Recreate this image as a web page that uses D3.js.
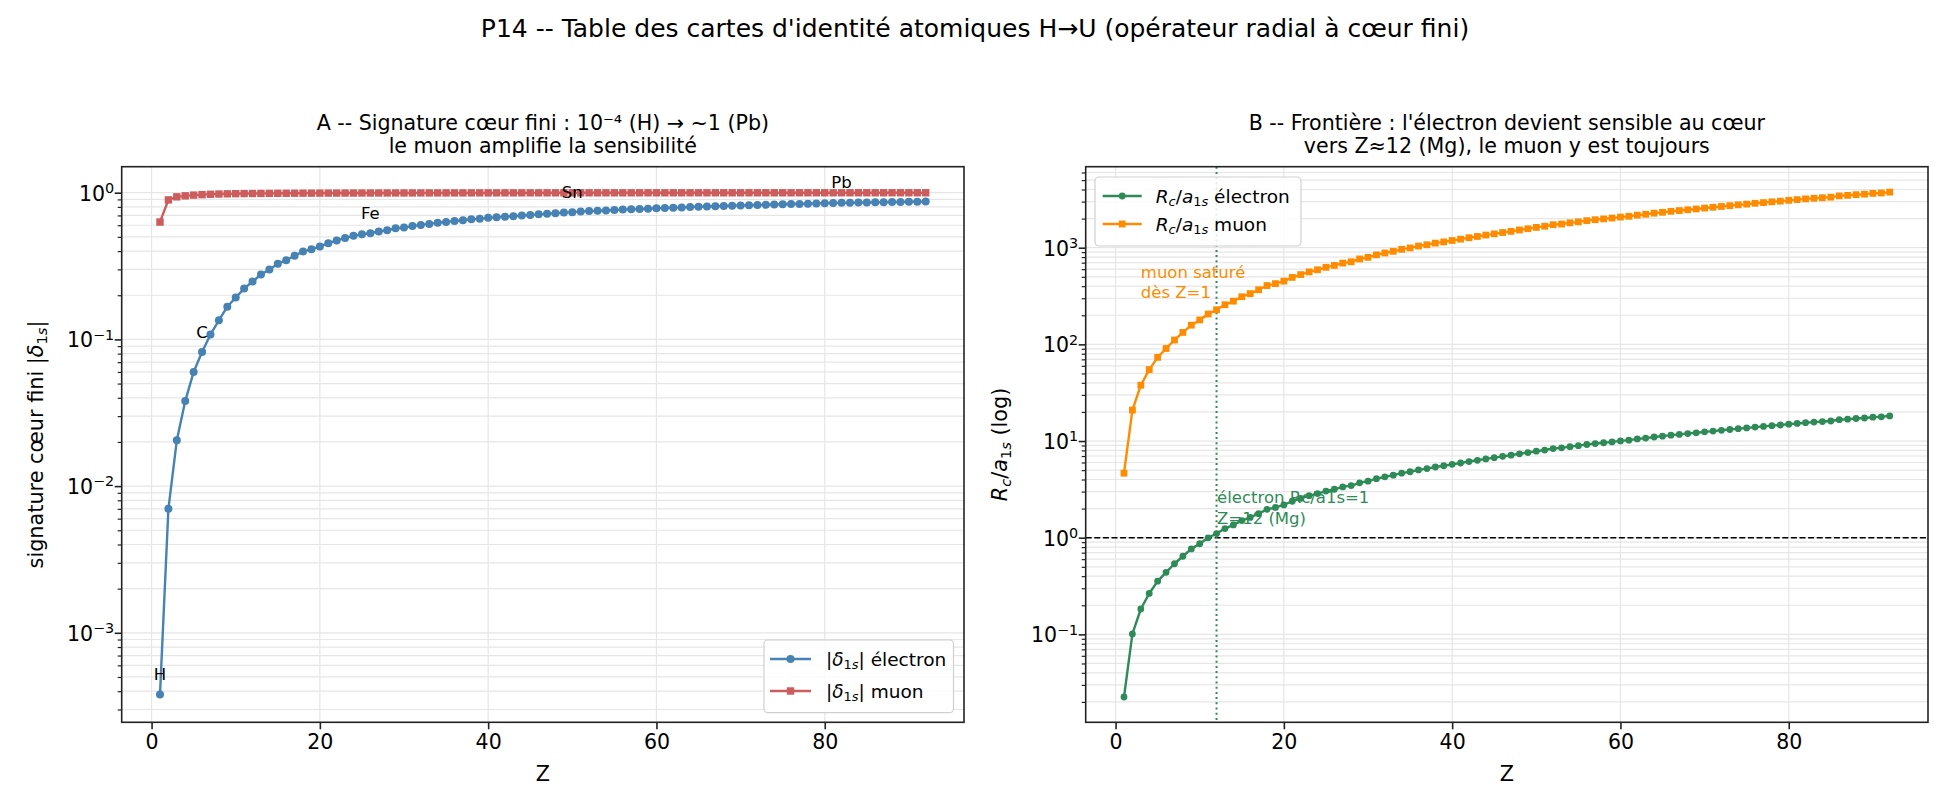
<!DOCTYPE html>
<html><head><meta charset="utf-8">
<script src="https://cdn.jsdelivr.net/npm/d3@7"></script>
<style>body{margin:0;background:#fff} svg{display:block} text{font-family:"DejaVu Sans",sans-serif;fill:#000}</style>
</head><body><svg id="c" width="1950" height="810"></svg>
<script>
// ---------------- DATA ----------------
const Z = [1,2,3,4,5,6,7,8,9,10,11,12,13,14,15,16,17,18,19,20,21,22,23,24,25,26,27,28,29,30,
31,32,33,34,35,36,37,38,39,40,41,42,43,44,45,46,47,48,49,50,51,52,53,54,55,56,57,58,59,60,
61,62,63,64,65,66,67,68,69,70,71,72,73,74,75,76,77,78,79,80,81,82,83,84,85,86,87,88,89,90,91,92];
const deltaElectron = [0.00038,0.0070,0.0205,0.038,0.060,0.082,0.108,0.135,0.167,0.193,
0.222,0.248,0.277,0.299,0.328,0.346,0.372,0.398,0.411,0.430,
0.453,0.472,0.492,0.508,0.521,0.530,0.544,0.555,0.572,0.578,
0.592,0.603,0.613,0.624,0.632,0.642,0.649,0.658,0.664,0.674,
0.680,0.686,0.692,0.699,0.705,0.712,0.718,0.724,0.733,0.737,
0.743,0.749,0.752,0.757,0.762,0.767,0.771,0.775,0.778,0.783,
0.786,0.791,0.794,0.799,0.802,0.806,0.809,0.812,0.815,0.819,
0.822,0.825,0.828,0.831,0.834,0.837,0.839,0.841,0.844,0.849,
0.851,0.853,0.855,0.856,0.858,0.861,0.862,0.864,0.865,0.868,
0.869,0.871];
const deltaMuon = [0.631,0.893,0.937,0.952,0.963,0.970,0.9755,0.9794,0.9825,0.9845,
0.9864,0.9877,0.9891,0.9899,0.9909,0.9915,0.9923,0.9930,0.9933,0.9937,
0.9942,0.9945,0.9949,0.9951,0.9954,0.9956,0.9958,0.9960,0.9962,0.9963,
0.9965,0.9967,0.9968,0.9970,0.9971,0.9972,0.9973,0.9974,0.9975,0.9976,
0.9977,0.9977,0.9978,0.9978,0.9979,0.9979,0.9980,0.9980,0.9981,0.9981,
0.9982,0.9982,0.9982,0.9983,0.9983,0.9983,0.9984,0.9984,0.9984,0.9985,
0.9985,0.9985,0.9986,0.9986,0.9986,0.9986,0.9987,0.9987,0.9987,0.9987,
0.9988,0.9988,0.9988,0.9988,0.9988,0.9989,0.9989,0.9989,0.9989,0.9989,
0.9989,0.9990,0.9990,0.9990,0.9990,0.9990,0.9990,0.9991,0.9991,0.9991,
0.9991,0.9991];
const ratioElectron = [0.0225,0.101,0.183,0.265,0.355,0.438,0.538,0.643,0.766,0.866,
0.998,1.104,1.244,1.356,1.503,1.621,1.774,1.964,2.055,2.182,
2.383,2.550,2.720,2.858,3.033,3.173,3.353,3.458,3.700,3.847,
4.077,4.265,4.440,4.654,4.811,5.031,5.190,5.391,5.554,5.739,
5.927,6.134,6.323,6.536,6.728,6.945,7.139,7.382,7.602,7.847,
8.071,8.361,8.498,8.750,8.954,9.210,9.420,9.605,9.796,10.03,
10.22,10.51,10.72,11.01,11.24,11.50,11.72,11.95,12.17,12.44,
12.67,12.92,13.17,13.43,13.66,13.94,14.17,14.43,14.66,14.95,
15.21,15.47,15.71,15.90,16.12,16.62,16.83,17.10,17.32,17.64,
17.81,18.19];
const ratioMuon = [4.65,20.9,37.8,54.8,73.4,90.6,111,133,158,179,
206,228,257,280,311,335,367,406,425,451,
493,527,562,591,627,656,693,715,765,795,
843,882,918,962,995,1040,1073,1115,1148,1187,
1226,1268,1307,1351,1391,1436,1476,1526,1572,1622,
1669,1729,1757,1809,1851,1904,1948,1986,2026,2074,
2113,2173,2217,2277,2324,2378,2423,2471,2516,2572,
2620,2671,2723,2777,2824,2882,2930,2984,3031,3091,
3145,3199,3248,3288,3333,3436,3480,3536,3581,3647,
3683,3761];
const elementLabels = ["H","C","Fe","Sn","Pb"];
const elementZ = [1,6,26,50,82];
const xTicks = [0,20,40,60,80];
const yTicksA = [1e-3,1e-2,1e-1,1];
const yTicksB = [1e-1,1,10,100,1000];
const ZThreshold = 12;

// ---------------- LAYOUT ----------------
const svg = d3.select("#c");
const FS_TICK = 20.5, FS_LAB = 20.8, FS_TITLE = 20.6, FS_SUP = 25, FS_LEG = 18.5, FS_ANN = 16.5;
const C_E_A = "#4682b4", C_M_A = "#cd5c5c", C_E_B = "#2e8b57", C_M_B = "#ff8c00";
const yTop = 166.7, yBot = 722.3;

function rich(t, parts, fs){
  let shift = 0;
  parts.forEach(p=>{
    const ts = t.append("tspan").text(p.t);
    const target = p.sub ? fs*0.2 : (p.sup ? -fs*0.38 : 0);
    const dy = target - shift;
    if (dy !== 0) ts.attr("dy", dy);
    shift = target;
    if (p.sub || p.sup) ts.attr("font-size", fs*0.7);
    if (p.it) ts.attr("font-style","italic");
  });
}
function supLabel(v){
  const e = Math.round(Math.log10(v));
  return [{t:"10"},{t:(e<0?"\u2212":"")+Math.abs(e), sup:true}];
}
function minorTicks(dom){
  const out=[];
  const lo=Math.floor(Math.log10(dom[0])), hi=Math.ceil(Math.log10(dom[1]));
  for(let d=lo; d<=hi; d++) for(let k=2;k<=9;k++){const v=k*Math.pow(10,d); if(v>=dom[0]&&v<=dom[1]) out.push(v);}
  return out;
}

function panel(o){
  const x = d3.scaleLinear().domain([-3.55,96.55]).range([o.left,o.right]);
  const y = d3.scaleLog().domain(o.ydom).range([yBot,yTop]);
  const g = svg.append("g");
  const minors = minorTicks(o.ydom);
  const grid = g.append("g").attr("stroke","#e6e6e6").attr("stroke-width",1.2);
  xTicks.forEach(v=>grid.append("line").attr("x1",x(v)).attr("x2",x(v)).attr("y1",yTop).attr("y2",yBot));
  o.yticks.concat(minors).forEach(v=>grid.append("line").attr("x1",o.left).attr("x2",o.right).attr("y1",y(v)).attr("y2",y(v)));
  if (o.extra) o.extra(g,x,y);
  const clip = "clip"+o.id;
  svg.append("clipPath").attr("id",clip).append("rect").attr("x",o.left).attr("y",yTop).attr("width",o.right-o.left).attr("height",yBot-yTop);
  const sg = g.append("g").attr("clip-path","url(#"+clip+")");
  o.series.forEach(s=>{
    const pts = Z.map((z,i)=>({z, v:s.values[i]}));
    const line = d3.line().x(d=>x(d.z)).y(d=>y(d.v));
    sg.append("path").attr("d",line(pts)).attr("fill","none").attr("stroke",s.color).attr("stroke-width",2.4).attr("stroke-linejoin","round");
    if (s.marker==="o"){
      sg.selectAll(null).data(pts).enter().append("circle").attr("cx",d=>x(d.z)).attr("cy",d=>y(d.v)).attr("r",s.ms).attr("fill",s.color);
    } else {
      sg.selectAll(null).data(pts).enter().append("rect").attr("x",d=>x(d.z)-s.ms).attr("y",d=>y(d.v)-s.ms).attr("width",2*s.ms).attr("height",2*s.ms).attr("fill",s.color);
    }
  });
  const ax = g.append("g").attr("transform",`translate(0,${yBot})`)
    .call(d3.axisBottom(x).tickValues(xTicks).tickSize(7).tickPadding(5).tickFormat(d3.format("d")));
  ax.select(".domain").remove();
  ax.selectAll(".tick line").attr("stroke","#222").attr("stroke-width",1.6);
  ax.selectAll(".tick text").attr("font-size",FS_TICK).attr("font-family","DejaVu Sans").attr("fill","#000");
  const ayM = g.append("g").attr("transform",`translate(${o.left},0)`)
    .call(d3.axisLeft(y).tickValues(minors).tickSize(4).tickFormat(""));
  ayM.select(".domain").remove();
  ayM.selectAll(".tick line").attr("stroke","#222").attr("stroke-width",1.2);
  const ay = g.append("g").attr("transform",`translate(${o.left},0)`)
    .call(d3.axisLeft(y).tickValues(o.yticks).tickSize(7).tickFormat(""));
  ay.select(".domain").remove();
  ay.selectAll(".tick line").attr("stroke","#222").attr("stroke-width",1.6);
  ay.selectAll(".tick").each(function(v){
    const t = d3.select(this).append("text").attr("x",-7.5).attr("y",7.5).attr("text-anchor","end")
      .attr("font-size",FS_TICK).attr("font-family","DejaVu Sans").attr("fill","#000");
    rich(t, supLabel(v), FS_TICK);
  });
  g.append("rect").attr("x",o.left).attr("y",yTop).attr("width",o.right-o.left).attr("height",yBot-yTop)
    .attr("fill","none").attr("stroke","#222").attr("stroke-width",1.6);
  g.append("text").attr("x",(o.left+o.right)/2).attr("y",781).attr("text-anchor","middle").attr("font-size",FS_LAB).text("Z");
  const yl = g.append("text").attr("transform",`translate(${o.ylabX},${(yTop+yBot)/2}) rotate(-90)`).attr("text-anchor","middle").attr("font-size",FS_LAB);
  rich(yl, o.ylabel, FS_LAB);
  o.title.forEach((t,i)=>g.append("text").attr("x",(o.left+o.right)/2).attr("y",130+i*22.5).attr("text-anchor","middle").attr("font-size",FS_TITLE).text(t));
  if (o.annot) o.annot(g,x,y);
  const L = o.legend;
  g.append("rect").attr("x",L.x0).attr("y",L.y0).attr("width",L.x1-L.x0).attr("height",L.y1-L.y0).attr("rx",4)
    .attr("fill","#fff").attr("fill-opacity",0.85).attr("stroke","#d0d0d0").attr("stroke-width",1.2);
  o.series.forEach((s,i)=>{
    const ry = L.rows[i];
    g.append("line").attr("x1",L.lx0).attr("x2",L.lx1).attr("y1",ry).attr("y2",ry).attr("stroke",s.color).attr("stroke-width",2.4);
    const mx=(L.lx0+L.lx1)/2;
    if (s.marker==="o") g.append("circle").attr("cx",mx).attr("cy",ry).attr("r",s.ms).attr("fill",s.color);
    else g.append("rect").attr("x",mx-s.ms).attr("y",ry-s.ms).attr("width",2*s.ms).attr("height",2*s.ms).attr("fill",s.color);
    const t = g.append("text").attr("x",L.tx).attr("y",ry+6.5).attr("font-size",FS_LEG);
    rich(t, s.label, FS_LEG);
  });
}

svg.append("text").attr("x",975).attr("y",36.5).attr("text-anchor","middle").attr("font-size",FS_SUP)
  .text("P14 -- Table des cartes d'identité atomiques H\u2192U (opérateur radial à cœur fini)");

const deltaLab = [{t:"|"},{t:"\u03b4",it:true},{t:"1",sub:true},{t:"s",sub:true,it:true},{t:"|"}];
panel({
  id:"A", left:121.7, right:964, ydom:[Math.pow(10,-3.610),Math.pow(10,0.1772)], yticks:yTicksA, ylabX:43,
  ylabel:[{t:"signature cœur fini "}].concat(deltaLab),
  title:["A -- Signature cœur fini : 10\u207b\u2074 (H) \u2192 ~1 (Pb)","le muon amplifie la sensibilité"],
  series:[
    {values:deltaElectron, color:C_E_A, marker:"o", ms:4, label:deltaLab.concat([{t:" électron"}])},
    {values:deltaMuon, color:C_M_A, marker:"s", ms:3.7, label:deltaLab.concat([{t:" muon"}])}
  ],
  annot:(g,x,y)=>{
    elementLabels.forEach((s,i)=>{
      const z=elementZ[i];
      g.append("text").attr("x",x(z)).attr("y",y(deltaElectron[z-1])-14.5).attr("text-anchor","middle").attr("font-size",FS_ANN).text(s);
    });
  },
  legend:{x0:764,x1:953.5,y0:640,y1:712.7,rows:[659,691],lx0:770,lx1:811,tx:826}
});

const ratioLab = [{t:"R",it:true},{t:"c",sub:true,it:true},{t:"/"},{t:"a",it:true},{t:"1",sub:true},{t:"s",sub:true,it:true}];
panel({
  id:"B", left:1085.7, right:1928, ydom:[Math.pow(10,-1.9096),Math.pow(10,3.838)], yticks:yTicksB, ylabX:1007,
  ylabel:ratioLab.concat([{t:" (log)"}]),
  title:["B -- Frontière : l'électron devient sensible au cœur","vers Z\u224812 (Mg), le muon y est toujours"],
  series:[
    {values:ratioElectron, color:C_E_B, marker:"o", ms:3.4, label:ratioLab.concat([{t:" électron"}])},
    {values:ratioMuon, color:C_M_B, marker:"s", ms:3.4, label:ratioLab.concat([{t:" muon"}])}
  ],
  extra:(g,x,y)=>{
    g.append("line").attr("x1",1085.7).attr("x2",1928).attr("y1",y(1)).attr("y2",y(1)).attr("stroke","#000").attr("stroke-width",1.6).attr("stroke-dasharray","6,2.6");
    g.append("line").attr("x1",x(ZThreshold)).attr("x2",x(ZThreshold)).attr("y1",yTop).attr("y2",yBot).attr("stroke",C_E_B).attr("stroke-width",2).attr("stroke-dasharray","2,3.2");
  },
  annot:(g,x,y)=>{
    const t1 = g.append("text").attr("font-size",FS_ANN).style("fill",C_M_B);
    t1.append("tspan").attr("x",x(3)).attr("y",y(300)-20).text("muon saturé");
    t1.append("tspan").attr("x",x(3)).attr("y",y(300)).text("dès Z=1");
    const t2 = g.append("text").attr("font-size",FS_ANN).style("fill",C_E_B);
    t2.append("tspan").attr("x",x(ZThreshold)+0.5).attr("y",y(1.4)-21).text("électron Rc/a1s=1");
    t2.append("tspan").attr("x",x(ZThreshold)+0.5).attr("y",y(1.4)).text("Z=12 (Mg)");
  },
  legend:{x0:1095,x1:1301,y0:177,y1:246,rows:[196,224],lx0:1102.7,lx1:1141.7,tx:1155.7}
});
</script></body></html>
